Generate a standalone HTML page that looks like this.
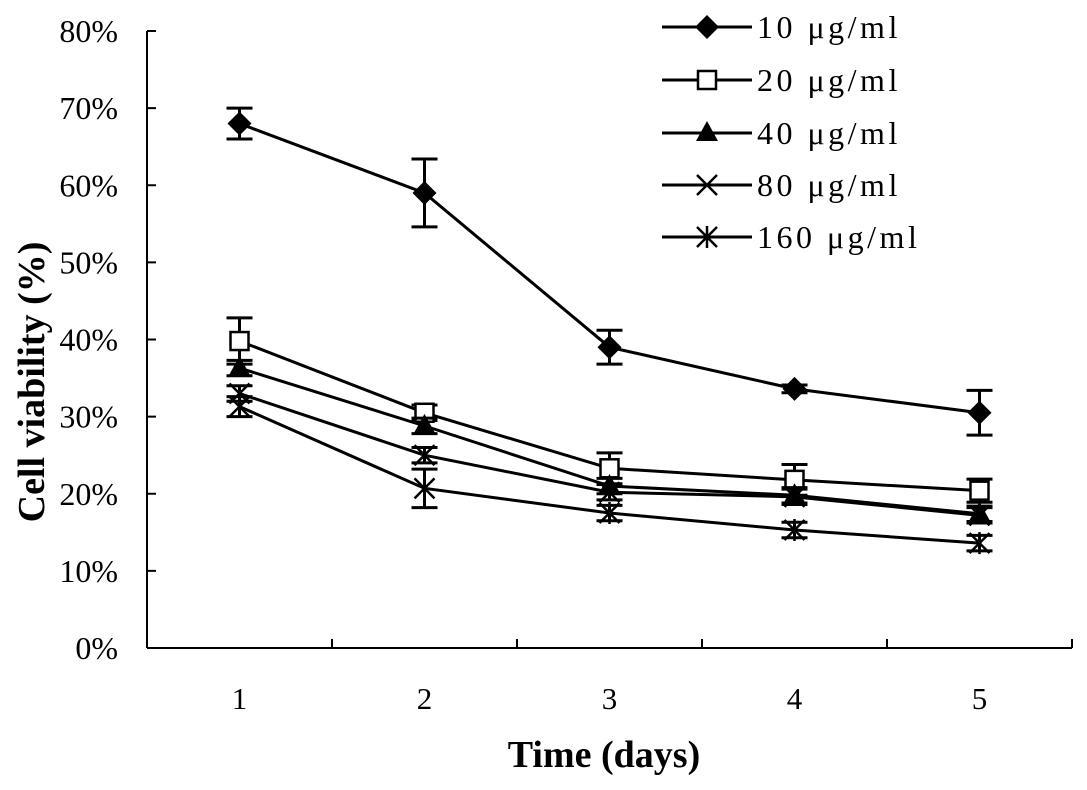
<!DOCTYPE html>
<html><head><meta charset="utf-8"><style>
html,body{margin:0;padding:0;background:#fff}
svg{display:block;font-family:"Liberation Serif","Noto Serif CJK SC",serif}
</style></head><body>
<svg id="chart" width="1087" height="790" viewBox="0 0 1087 790">
<g id="axes"></g><g id="series"></g><g id="legend"></g>
</svg>
<script>
const categories=[1,2,3,4,5];
const yTicks=[0,10,20,30,40,50,60,70,80];
const seriesNames=["10 μg/ml","20 μg/ml","40 μg/ml","80 μg/ml","160 μg/ml"];
const s10=[68,59,39,33.6,30.5];
const s20=[39.8,30.5,23.3,21.8,20.4];
const s40=[36.3,28.8,21,19.8,17.4];
const s80=[33,25,20.2,19.6,17.2];
const s160=[31.3,20.7,17.5,15.3,13.6];
const e10=[2,4.4,2.2,0.5,2.9];
const e20=[3,1,2,2,1.5];
const e40=[1,1,1,1,1];
const e80=[1,1,1,1,1];
const e160=[1.3,2.5,1,1,1];
const NS="http://www.w3.org/2000/svg";
const X0=147,X1=1072,Y0=648,Y80=31;
const y=v=>Y0-(v/80)*(Y0-Y80);
const x=i=>X0+(X1-X0)/5*(i+0.5);
function mk(tag,attrs,parent){const e=document.createElementNS(NS,tag);for(const k in attrs)e.setAttribute(k,attrs[k]);parent.appendChild(e);return e;}
const axes=document.getElementById('axes');
let a=mk('line',{x1:X0,y1:Y80,x2:X0,y2:Y0,stroke:'#000','stroke-width':2},axes);

a=mk('line',{x1:X0,y1:Y0,x2:X1,y2:Y0,stroke:'#000','stroke-width':2},axes);

yTicks.forEach(v=>{
 mk('line',{x1:X0,y1:y(v),x2:X0+9,y2:y(v),stroke:'#000','stroke-width':2},axes);
 const t=mk('text',{x:118,y:y(v)+11,'text-anchor':'end','font-size':32},axes);
 t.textContent=v+'%';
 
 
});
for(let i=0;i<=5;i++){mk('line',{x1:X0+(X1-X0)/5*i,y1:Y0,x2:X0+(X1-X0)/5*i,y2:Y0-9,stroke:'#000','stroke-width':2},axes);}
categories.forEach((c,i)=>{
 const t=mk('text',{x:x(i),y:709,'text-anchor':'middle','font-size':31},axes);
 t.textContent=c;
 
 
});
let t=mk('text',{x:604,y:767,'text-anchor':'middle','font-size':38,'font-weight':'bold'},axes);
t.textContent='Time (days)';

t=mk('text',{x:0,y:0,'text-anchor':'middle','font-size':38,'font-weight':'bold',transform:'translate(44,382) rotate(-90)'},axes);
t.textContent='Cell viability (%)';


function marker(type,cx,cy,g){
 const st={stroke:'#000','stroke-width':2.5};
 if(type===0)mk('polygon',{points:`${cx},${cy-12} ${cx+12},${cy} ${cx},${cy+12} ${cx-12},${cy}`,fill:'#000'},g);
 else if(type===1)mk('rect',{x:cx-9,y:cy-9,width:18,height:18,fill:'#fff',...st},g);
 else if(type===2)mk('polygon',{points:`${cx},${cy-12} ${cx+11},${cy+8} ${cx-11},${cy+8}`,fill:'#000'},g);
 else if(type===3){mk('line',{x1:cx-10,y1:cy-10,x2:cx+10,y2:cy+10,...st},g);mk('line',{x1:cx-10,y1:cy+10,x2:cx+10,y2:cy-10,...st},g);}
 else {mk('line',{x1:cx-10,y1:cy-10,x2:cx+10,y2:cy+10,...st},g);mk('line',{x1:cx-10,y1:cy+10,x2:cx+10,y2:cy-10,...st},g);mk('line',{x1:cx,y1:cy-11,x2:cx,y2:cy+11,...st},g);}
}
const all=[s10,s20,s40,s80,s160],errs=[e10,e20,e40,e80,e160];
const sg=document.getElementById('series');
all.forEach((s,k)=>{
 const g=mk('g',{},sg);
 
 
 mk('polyline',{points:s.map((v,i)=>x(i)+','+y(v)).join(' '),fill:'none',stroke:'#000','stroke-width':3},g);
 s.forEach((v,i)=>{
  const e=errs[k][i];
  mk('line',{x1:x(i),y1:y(v+e),x2:x(i),y2:y(v-e),stroke:'#000','stroke-width':3},g);
  mk('line',{x1:x(i)-13,y1:y(v+e),x2:x(i)+13,y2:y(v+e),stroke:'#000','stroke-width':3},g);
  mk('line',{x1:x(i)-13,y1:y(v-e),x2:x(i)+13,y2:y(v-e),stroke:'#000','stroke-width':3},g);
  marker(k,x(i),y(v),g);
 });
});
const lg=document.getElementById('legend');
const ly=[27,80,133,185,237];
seriesNames.forEach((n,k)=>{
 const g=mk('g',{},lg);
 
 
 mk('line',{x1:662,y1:ly[k],x2:752,y2:ly[k],stroke:'#000','stroke-width':3},g);
 marker(k,707,ly[k],g);
 const tt=mk('text',{x:757,y:ly[k]+11,'font-size':32,'letter-spacing':3.5},g);
 tt.textContent=n;
});
</script>
</body></html>
